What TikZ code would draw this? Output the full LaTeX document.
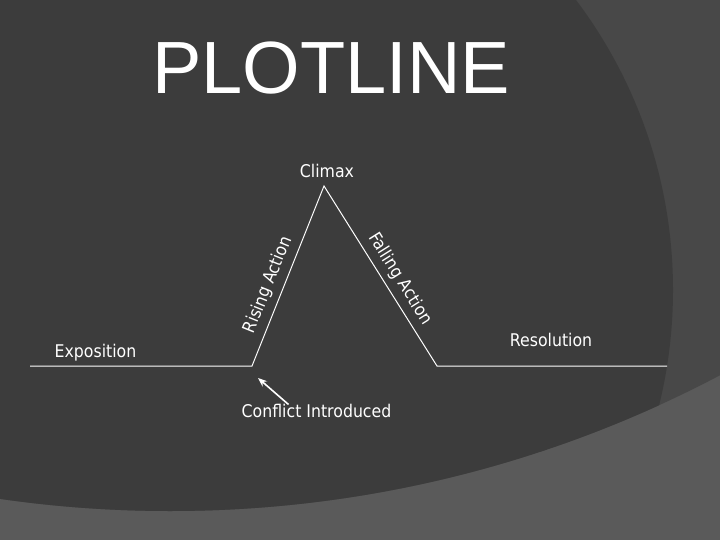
\documentclass[tikz,border=0pt]{standalone}
\usepackage{fontspec}
\usetikzlibrary{arrows.meta}
\newfontfamily\titlefont{Liberation Sans}
\newfontfamily\labelfont[FakeStretch=0.9]{DejaVu Sans}
\definecolor{SlideDark}{HTML}{3C3C3C}
\definecolor{SlideMid}{HTML}{484848}
\definecolor{SlideLight}{HTML}{5A5A5A}

\begin{document}
\begin{tikzpicture}[x=1pt,y=-1pt,
  plotlabel/.style={white,font=\labelfont\fontsize{17.5}{20}\selectfont,inner sep=0pt},
  plotline/.style={white,line width=1pt}]
  \useasboundingbox (0,0) rectangle (720,540);
  % background swirl
  \begin{scope}
    \clip (0,0) rectangle (720,540);
    \fill[SlideLight] (0,0) rectangle (720,540);
    \fill[SlideMid] (170,-669) circle (1180pt);
    \clip (170,-669) circle (1180pt);
    \fill[SlideDark] (191,290) circle (482pt);
  \end{scope}
  \node[white,anchor=base,font=\titlefont\fontsize{74}{80}\selectfont] (title) at (331,94) {PLOTLINE};
  % the plot line
  \coordinate (start) at (30,366); \coordinate (rise) at (252,366); \coordinate (peak) at (324,186);
  \coordinate (fall) at (437,366); \coordinate (finish) at (667,366);
  \draw[plotline] (start) -- (rise) -- node[plotlabel,sloped,above=6pt,pos=.42] {Rising Action} (peak)
    -- node[plotlabel,sloped,above=6pt,pos=.56] {Falling Action} (fall) -- (finish);
  \node[plotlabel,anchor=base] (climax) at (327,178) {Climax};
  \node[plotlabel,anchor=base] (exposition) at (95.5,357) {Exposition};
  \node[plotlabel,anchor=base] (resolution) at (551,346) {Resolution};
  \node[plotlabel,anchor=base] (conflict) at (316.5,417) {Conflict Introduced};
  \coordinate (hint) at (258,378);
  \draw[white,line width=1.6pt,-{Stealth[length=9pt,width=7pt]}] ([xshift=-28pt,yshift=-1pt]conflict.north) -- (hint);
\end{tikzpicture}
\end{document}
